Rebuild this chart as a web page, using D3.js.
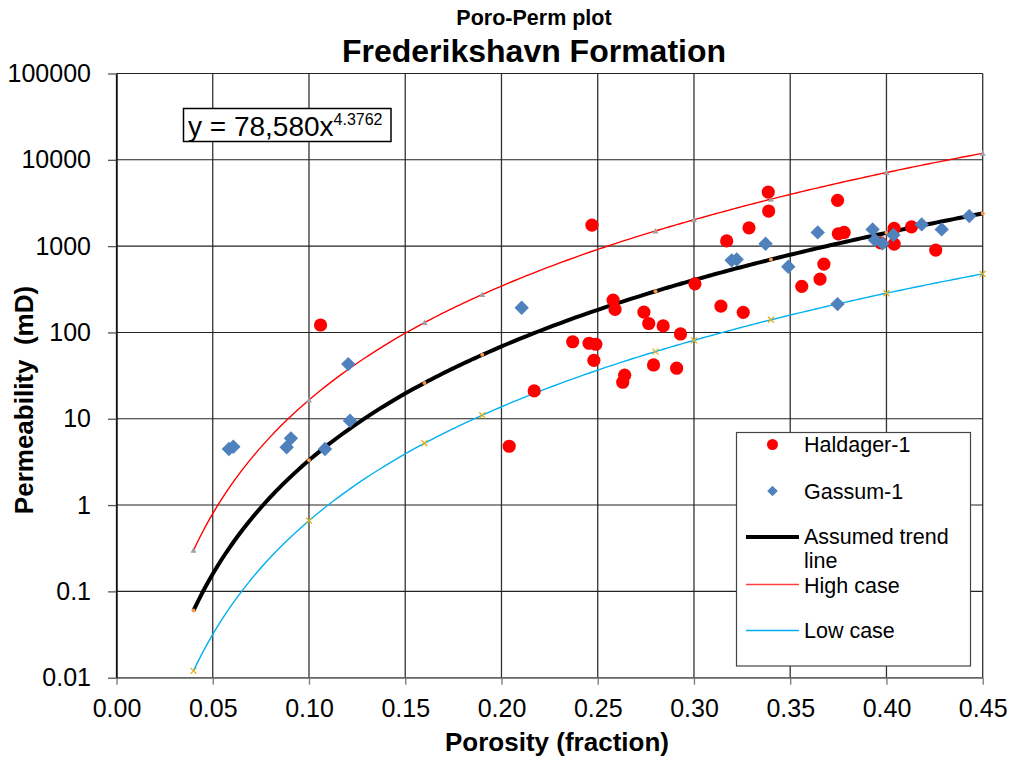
<!DOCTYPE html>
<html>
<head>
<meta charset="utf-8">
<script src="https://cdn.jsdelivr.net/npm/d3@7/dist/d3.min.js"></script>
<style>
  html, body { margin: 0; padding: 0; background: #fff; }
  svg { display: block; font-family: "Liberation Sans", Arial, sans-serif; }
</style>
</head>
<body>
<svg id="chart" width="1011" height="760"></svg>
<script>
// Haldager-1 core plugs: porosity (fraction) and permeability (mD)
const haldagerPhi = [0.106, 0.247, 0.217, 0.204, 0.237, 0.2455, 0.249, 0.248, 0.258, 0.259,
  0.274, 0.2765, 0.284, 0.293, 0.279, 0.291, 0.264, 0.263, 0.3005, 0.314,
  0.317, 0.3386, 0.3388, 0.3286, 0.3746, 0.375, 0.378, 0.3675, 0.3655, 0.356,
  0.3256, 0.404, 0.404, 0.397, 0.413, 0.4256];
const haldagerK = [122, 1750, 21, 4.8, 78, 75, 73, 47.5, 237, 185,
  172, 127, 119, 96, 42, 38.5, 32, 26.5, 366, 202,
  1150, 4230, 2550, 1630, 3390, 1390, 1440, 620, 415, 342,
  171, 1606, 1057, 1090, 1675, 900];

// Gassum-1 core plugs
const gassumPhi = [0.0584, 0.0607, 0.0884, 0.0906, 0.1083, 0.1204, 0.1213, 0.2105, 0.3196, 0.3222,
  0.3372, 0.349, 0.3643, 0.3746, 0.3928, 0.394, 0.398, 0.4036, 0.4183, 0.4287, 0.443];
const gassumK = [4.46, 4.74, 4.67, 5.93, 4.46, 43, 9.5, 193, 684, 702,
  1064, 577, 1443, 213, 1563, 1175, 1076, 1343, 1786, 1563, 2228];

// Trend, high and low case curves (points along the curves)
const curvePhi = [0.04, 0.10, 0.16, 0.19, 0.28, 0.30, 0.34, 0.40, 0.45];
const trendK = [0.06, 3.3, 26, 55, 300, 405, 700, 1425, 2390];
const highK  = [0.3, 16.5, 130, 275, 1500, 2020, 3500, 7120, 11900];
const lowK   = [0.012, 0.66, 5.2, 11, 60, 81, 140, 285, 477];

// Axis ticks
const xTicks = [0, 0.05, 0.10, 0.15, 0.20, 0.25, 0.30, 0.35, 0.40, 0.45];
const xTickLabels = ["0.00", "0.05", "0.10", "0.15", "0.20", "0.25", "0.30", "0.35", "0.40", "0.45"];
const yTicks = [0.01, 0.1, 1, 10, 100, 1000, 10000, 100000];
const yTickLabels = ["0.01", "0.1", "1", "10", "100", "1000", "10000", "100000"];

const svg = d3.select("#chart");
const L = 116.5, R = 982.7, T = 73.5, B = 677.7;

const x = d3.scaleLinear().domain([0, 0.45]).range([L, R]);
const y = d3.scaleLog().domain([0.01, 100000]).range([B, T]);

// Titles
svg.append("text").attr("x", 534).attr("y", 25).attr("text-anchor", "middle")
  .attr("font-weight", "bold").attr("font-size", 21.5).text("Poro-Perm plot");
svg.append("text").attr("x", 534).attr("y", 62).attr("text-anchor", "middle")
  .attr("font-weight", "bold").attr("font-size", 32).text("Frederikshavn Formation");

// Grid
const grid = svg.append("g");
grid.selectAll("line.v").data(xTicks).join("line")
  .attr("x1", d => x(d)).attr("x2", d => x(d)).attr("y1", T).attr("y2", B)
  .attr("stroke", "#333").attr("stroke-width", 1.3);
grid.selectAll("line.h").data(yTicks).join("line")
  .attr("x1", L).attr("x2", R).attr("y1", d => y(d)).attr("y2", d => y(d))
  .attr("stroke", "#222").attr("stroke-width", 1.1);

// Axes
const xAxis = svg.append("g").attr("transform", `translate(0,${B})`)
  .call(d3.axisBottom(x).tickValues(xTicks).tickFormat((d, i) => xTickLabels[i]).tickSize(7).tickSizeOuter(0));
xAxis.select(".domain").attr("stroke", "#777").attr("stroke-width", 1.3);
xAxis.selectAll(".tick line").attr("stroke", "#777").attr("stroke-width", 1.3);
xAxis.selectAll(".tick text").attr("y", 39.5).attr("dy", null)
  .attr("font-size", 25).attr("font-family", "Liberation Sans, Arial, sans-serif").attr("fill", "#000");

const yAxis = svg.append("g").attr("transform", `translate(${L},0)`)
  .call(d3.axisLeft(y).tickValues(yTicks).tickFormat((d, i) => yTickLabels[i]).tickSize(8.5).tickPadding(17).tickSizeOuter(0));
yAxis.select(".domain").attr("stroke", "#000").attr("stroke-width", 1.3);
yAxis.selectAll(".tick line").attr("stroke", "#555").attr("stroke-width", 1.3);
yAxis.selectAll(".tick text").attr("font-size", 25)
  .attr("font-family", "Liberation Sans, Arial, sans-serif").attr("fill", "#000");

// Axis titles
svg.append("text").attr("x", 557).attr("y", 751).attr("text-anchor", "middle")
  .attr("font-weight", "bold").attr("font-size", 26).text("Porosity (fraction)");
svg.append("text").attr("transform", "translate(33,400) rotate(-90)").attr("text-anchor", "middle")
  .attr("font-weight", "bold").attr("font-size", 26)
  .text("Permeability\u00A0 (mD)");

// Smooth curve through the curve points: monotone spline in log-porosity space,
// sampled and mapped back onto the linear porosity axis.
function smoothPath(pts) {
  const rec = [];
  const ctx = {
    moveTo(a, b) { rec.push(["M", a, b]); },
    lineTo(a, b) { rec.push(["L", a, b]); },
    bezierCurveTo(a, b, c, d, e, f) { rec.push(["C", a, b, c, d, e, f]); },
    closePath() {}
  };
  d3.line().x(d => Math.log(d[0])).y(d => y(d[1])).curve(d3.curveMonotoneX).context(ctx)(pts);
  const X = u => x(Math.exp(u));
  const out = d3.path();
  let cu = 0, cv = 0;
  rec.forEach(s => {
    if (s[0] === "M") { out.moveTo(X(s[1]), s[2]); cu = s[1]; cv = s[2]; }
    else if (s[0] === "L") { out.lineTo(X(s[1]), s[2]); cu = s[1]; cv = s[2]; }
    else {
      for (let i = 1; i <= 24; i++) {
        const t = i / 24, m = 1 - t;
        const u = m * m * m * cu + 3 * m * m * t * s[1] + 3 * m * t * t * s[3] + t * t * t * s[5];
        const v = m * m * m * cv + 3 * m * m * t * s[2] + 3 * m * t * t * s[4] + t * t * t * s[6];
        out.lineTo(X(u), v);
      }
      cu = s[5]; cv = s[6];
    }
  });
  return out.toString();
}

const curves = [
  { k: highK, color: "#FF0000", width: 1.4, marker: "tri", mcolor: "#A0A0A0" },
  { k: lowK, color: "#00B0F0", width: 1.4, marker: "x", mcolor: "#E0B020" },
  { k: trendK, color: "#000000", width: 4, marker: "dot", mcolor: "#F79646" }
];
curves.forEach(c => {
  const pts = curvePhi.map((p, i) => [p, c.k[i]]);
  svg.append("path").attr("d", smoothPath(pts)).attr("fill", "none")
    .attr("stroke", c.color).attr("stroke-width", c.width).attr("stroke-linejoin", "round");
  const g = svg.append("g");
  pts.forEach(p => {
    const cx = x(p[0]), cy = y(p[1]);
    if (c.marker === "tri") {
      g.append("path").attr("d", `M${cx},${cy - 3}L${cx + 3},${cy + 2.5}L${cx - 3},${cy + 2.5}Z`).attr("fill", c.mcolor);
    } else if (c.marker === "x") {
      g.append("path").attr("d", `M${cx - 3},${cy - 3}L${cx + 3},${cy + 3}M${cx - 3},${cy + 3}L${cx + 3},${cy - 3}`)
        .attr("stroke", c.mcolor).attr("stroke-width", 1.3);
    } else {
      g.append("circle").attr("cx", cx).attr("cy", cy).attr("r", 2).attr("fill", c.mcolor);
    }
  });
});

// Data points
const haldager = haldagerPhi.map((p, i) => [p, haldagerK[i]]);
const gassum = gassumPhi.map((p, i) => [p, gassumK[i]]);
svg.append("g").selectAll("circle").data(haldager).join("circle")
  .attr("cx", d => x(d[0])).attr("cy", d => y(d[1])).attr("r", 6.6).attr("fill", "#FF0000");
const dia = (s) => `M0,${-s}L${s},0L0,${s}L${-s},0Z`;
svg.append("g").selectAll("path").data(gassum).join("path")
  .attr("transform", d => `translate(${x(d[0])},${y(d[1])})`).attr("d", dia(7.2)).attr("fill", "#4F81BD");

// Equation box
svg.append("rect").attr("x", 183.5).attr("y", 108.5).attr("width", 207.5).attr("height", 33)
  .attr("fill", "#fff").attr("stroke", "#000").attr("stroke-width", 1.5);
const eq = svg.append("text").attr("x", 188).attr("y", 135.5).attr("font-size", 28);
eq.append("tspan").text("y = 78,580x");
eq.append("tspan").attr("font-size", 16).attr("dy", -11).text("4.3762");

// Legend
const lg = svg.append("g");
lg.append("rect").attr("x", 736.5).attr("y", 432.5).attr("width", 234).attr("height", 233.5)
  .attr("fill", "#fff").attr("stroke", "#444").attr("stroke-width", 1.2);
const legendItems = [
  { label: ["Haldager-1"], y: 452, my: 444.5, type: "circle" },
  { label: ["Gassum-1"], y: 498.5, my: 491, type: "diamond" },
  { label: ["Assumed trend", "line"], y: 544, my: 537, type: "line", color: "#000", width: 4 },
  { label: ["High case"], y: 592.5, my: 584.5, type: "line", color: "#FF4040", width: 1.5 },
  { label: ["Low case"], y: 637.5, my: 630.5, type: "line", color: "#00B0F0", width: 1.5 }
];
legendItems.forEach(it => {
  if (it.type === "circle") {
    lg.append("circle").attr("cx", 772.5).attr("cy", it.my).attr("r", 5.5).attr("fill", "#FF0000");
  } else if (it.type === "diamond") {
    lg.append("path").attr("transform", `translate(772.5,${it.my})`).attr("d", dia(5.3)).attr("fill", "#4F81BD");
  } else {
    lg.append("line").attr("x1", 746).attr("x2", 799).attr("y1", it.my).attr("y2", it.my)
      .attr("stroke", it.color).attr("stroke-width", it.width);
  }
  const t = lg.append("text").attr("x", 804).attr("y", it.y).attr("font-size", 21.5);
  it.label.forEach((s, j) => {
    t.append("tspan").attr("x", 804).attr("dy", j === 0 ? 0 : 24.1).text(s);
  });
});
</script>
</body>
</html>
